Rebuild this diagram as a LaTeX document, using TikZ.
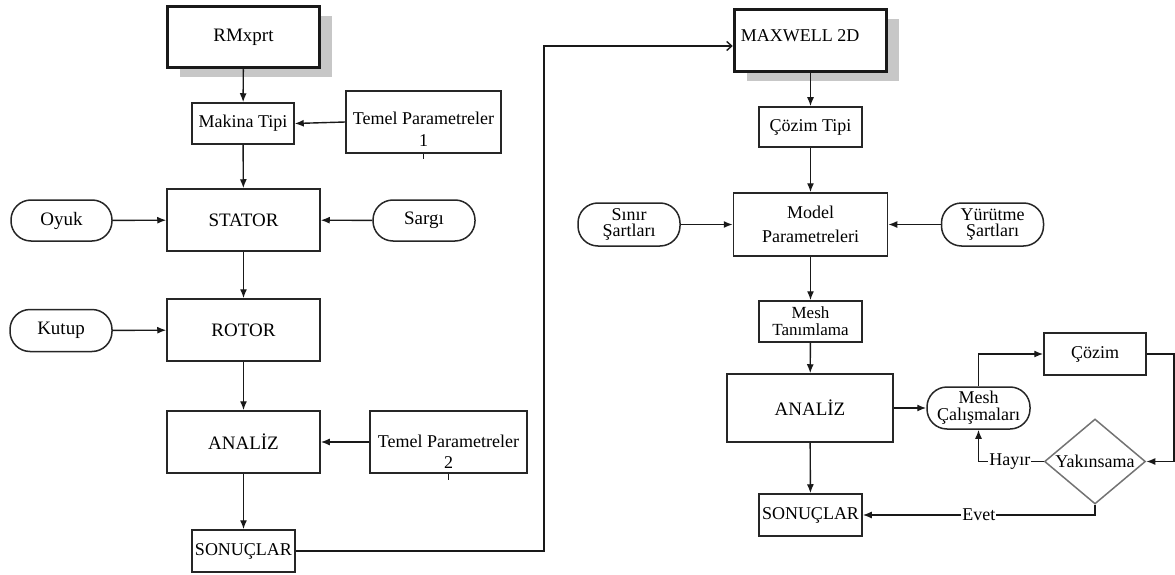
\documentclass[tikz,border=0pt]{standalone}
\usepackage{fontspec}
\setmainfont{Liberation Serif}
\usetikzlibrary{arrows.meta,shapes.geometric,shadows}
\begin{document}
\begin{tikzpicture}[x=1pt,y=-1pt,
  every node/.style={font=\fontsize{18}{16}\selectfont, inner sep=0pt, text=black},
  box/.style={draw=black!85, line width=1.5pt, rectangle, align=center, fill=white},
  bigbox/.style={draw=black!90, line width=3.5pt, rectangle, fill=white,
    drop shadow={shadow xshift=12pt, shadow yshift=-10pt, fill=black!22, opacity=1}},
  pill/.style={draw=black!85, line width=1.5pt, rectangle, rounded corners=20pt, align=center, fill=white},
  dia/.style={diamond, draw=black!55, line width=1.5pt},
  lnk/.style={line width=1.4pt, draw=black!90},
  arr/.style={lnk, -{Latex[length=9pt,width=7pt]}},
  tag/.style={fill=white, inner xsep=1pt, inner ysep=1pt}
]
\useasboundingbox (0,0) rectangle (1175,575);

% ---------- left chain ----------
\node[bigbox, minimum width=152pt, minimum height=61pt, font=\fontsize{19}{16}\selectfont] (rm) at (243.5,37) {RMxprt};
\node[box, minimum width=102pt, minimum height=41pt] (mk) at (243,123.5) {Makina Tipi};
\node[box, minimum width=155pt, minimum height=62pt,
  label={[font=\fontsize{18}{22}\selectfont, align=center, yshift=-7pt]center:Temel Parametreler\\1}] (t1) at (423.5,122) {};
\node[box, minimum width=153pt, minimum height=62pt, font=\fontsize{19}{16}\selectfont] (st) at (243.5,220) {STATOR};
\node[pill, minimum width=101pt, minimum height=41pt, font=\fontsize{19}{16}\selectfont] (oy) at (61.5,220.5) {Oyuk};
\node[pill, minimum width=102pt, minimum height=41pt, font=\fontsize{19}{16}\selectfont] (sa) at (424,220.5) {Sargı};
\node[box, minimum width=153pt, minimum height=62pt, font=\fontsize{19}{16}\selectfont] (ro) at (243.5,330) {ROTOR};
\node[pill, minimum width=102pt, minimum height=42pt, font=\fontsize{19}{16}\selectfont] (ku) at (61,330.5) {Kutup};
\node[box, minimum width=153pt, minimum height=62pt, font=\fontsize{19}{16}\selectfont] (an1) at (243.5,442) {ANALİZ};
\node[box, minimum width=157pt, minimum height=62pt,
  label={[font=\fontsize{18}{21}\selectfont, align=center, yshift=-10pt]center:Temel Parametreler\\2}] (t2) at (448.5,442) {};
\node[box, minimum width=103pt, minimum height=42pt] (so1) at (243.5,551) {SONUÇLAR};

\draw[arr] (rm) -- (mk);
\draw[arr] (t1.west) -- (mk.east);
\draw[arr] (mk) -- (st);
\draw[arr] (oy) -- (st);
\draw[arr] (sa) -- (st);
\draw[arr] (st) -- (ro);
\draw[arr] (ku) -- (ro);
\draw[arr] (ro) -- (an1);
\draw[arr] (t2) -- (an1);
\draw[arr] (an1) -- (so1);
\draw[lnk, line width=1pt] (t1.south) -- ++(0,5);
\draw[lnk, line width=1pt] (t2.south) -- ++(0,6);

% ---------- right chain ----------
\node[bigbox, minimum width=152pt, minimum height=62pt,
  label={[anchor=west, xshift=8pt, yshift=4.5pt]west:MAXWELL 2D}] (mx) at (810.5,40.5) {};
\node[box, minimum width=103pt, minimum height=40pt] (ct) at (810.5,127) {Çözim Tipi};
\node[box, minimum width=154pt, minimum height=63pt, font=\fontsize{18}{24}\selectfont] (mp) at (810.5,224.5) {Model\\Parametreleri};
\node[pill, minimum width=102pt, minimum height=43pt] (si) at (629,224.5) {Sınır\\Şartları};
\node[pill, minimum width=102pt, minimum height=43pt] (yu) at (992.5,224.5) {Yürütme\\Şartları};
\node[box, minimum width=103pt, minimum height=41pt, font=\fontsize{17}{17}\selectfont] (mt) at (810.5,321.5) {Mesh\\Tanımlama};
\node[box, minimum width=166pt, minimum height=68pt, font=\fontsize{19}{16}\selectfont] (an2) at (810,408) {ANALİZ};
\node[box, minimum width=103pt, minimum height=42pt] (so2) at (810.5,515) {SONUÇLAR};
\node[pill, minimum width=103pt, minimum height=42pt, font=\fontsize{18}{17}\selectfont] (mc) at (978.5,408) {Mesh\\Çalışmaları};
\node[box, minimum width=102pt, minimum height=42pt] (cz) at (1095,354) {Çözim};
\node[dia, minimum width=101pt, minimum height=85pt] (yk) at (1095,461.5) {};
\node (ykl) at (yk.center) {Yakınsama};

\coordinate (c1) at (544,46);
\coordinate (c2) at (1174,354);

\draw[lnk, -{Straight Barb[length=5pt,width=9pt]}] (so1.east) -| (c1) -- (c1 -| mx.west);
\draw[arr] (mx) -- (ct);
\draw[arr] (ct) -- (mp);
\draw[arr] (si) -- (mp);
\draw[arr] (yu) -- (mp);
\draw[arr] (mp) -- (mt);
\draw[arr] (mt) -- (an2);
\draw[arr] (an2) -- (mc);
\draw[arr] (an2) -- (so2);
\draw[arr] (mc.north) |- (cz.west);
\draw[arr] (cz.east) -- (c2) |- (yk.east);
\draw[arr] (yk.west) -| (mc.south) node[tag, pos=0.26] (hy) {Hayır};
\draw[arr] (yk.south) |- (so2.east) node[tag, pos=0.75] (ev) {Evet};
\end{tikzpicture}
\end{document}
